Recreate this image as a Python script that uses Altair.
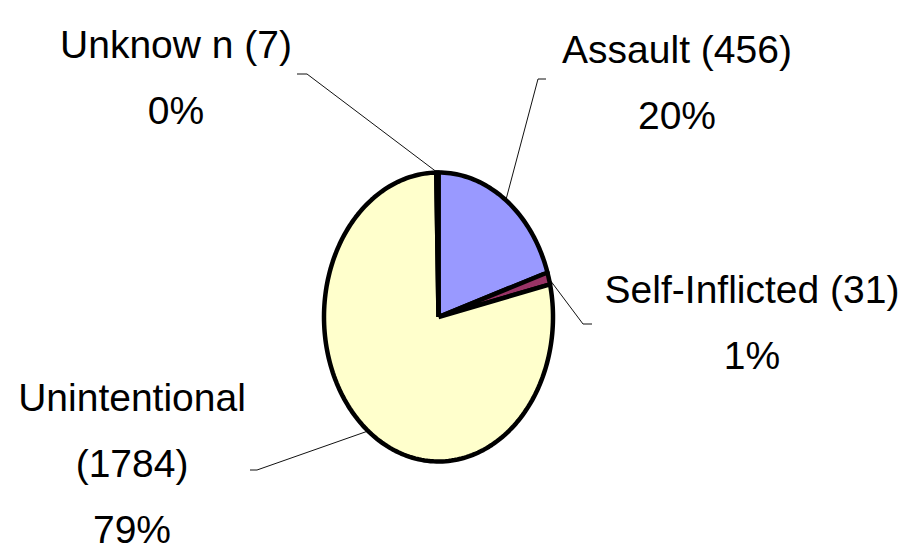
import math
import altair as alt
import pandas as pd

# ---- data ----
categories = ["Assault", "Self-Inflicted", "Unintentional", "Unknow n"]
counts = [456, 31, 1784, 7]
percents = [20, 1, 79, 0]
colors = ["#9999FF", "#993366", "#FFFFCC", "#CCFFFF"]

# ---- layout (pixels) ----
W, H = 898, 543
CX, CY, RX, RY = 438.5, 317.0, 114.5, 144.5
label_first_line_break = [False, False, True, False]
label_pos = [(677, 63), (752, 303), (132, 411), (176, 58)]
leader_elbow = [(538, 79), (583, 324), (257, 470), (307, 74)]
leader_tick = [(546, 79), (592, 324), (250, 470), (297, 74)]

total = sum(counts)

slice_rows, leader_rows, label_rows = [], [], []
start = 0.0
for k, (cat, n) in enumerate(zip(categories, counts)):
    sweep = n / total * 2 * math.pi
    end = start + sweep
    steps = max(2, int(sweep / (2 * math.pi) * 240))
    i = 0
    slice_rows.append(dict(cat=cat, i=i, x=CX, y=CY)); i += 1
    for s in range(steps + 1):
        t = start + sweep * s / steps
        slice_rows.append(dict(cat=cat, i=i, x=CX + RX * math.sin(t), y=CY - RY * math.cos(t))); i += 1
    slice_rows.append(dict(cat=cat, i=i, x=CX, y=CY))
    mid = start + sweep / 2
    ex, ey = CX + RX * math.sin(mid), CY - RY * math.cos(mid)
    pts = [(ex, ey), leader_elbow[k], leader_tick[k]]
    for j, (px, py) in enumerate(pts):
        leader_rows.append(dict(cat=cat, i=j, x=px, y=py))
    name_part = f"{cat}\n({n})" if label_first_line_break[k] else f"{cat} ({n})"
    label_rows.append(dict(cat=cat, x=label_pos[k][0], y=label_pos[k][1],
                           label=f"{name_part}\n{percents[k]}%"))
    start = end

slices = pd.DataFrame(slice_rows)
leaders = pd.DataFrame(leader_rows)
labels = pd.DataFrame(label_rows)

xs = alt.Scale(domain=[8, 8 + W], nice=False, zero=False)
ys = alt.Scale(domain=[8, 8 + H], nice=False, zero=False, reverse=True)

pie = alt.Chart(slices).mark_line(
    stroke="black", strokeWidth=4.5, strokeJoin="round", interpolate="linear"
).encode(
    x=alt.X("x:Q", scale=xs, axis=None),
    y=alt.Y("y:Q", scale=ys, axis=None),
    detail="cat:N",
    order=alt.Order("i:Q"),
    fill=alt.Fill("cat:N", scale=alt.Scale(domain=categories, range=colors), legend=None),
)

lead = alt.Chart(leaders).mark_line(stroke="#111111", strokeWidth=1).encode(
    x=alt.X("x:Q", scale=xs, axis=None),
    y=alt.Y("y:Q", scale=ys, axis=None),
    detail="cat:N",
    order=alt.Order("i:Q"),
)

text = alt.Chart(labels).mark_text(
    font="Liberation Sans, Arial, sans-serif",
    fontSize=39, lineHeight=66, align="center", baseline="alphabetic",
    lineBreak="\n", color="black",
).encode(
    x=alt.X("x:Q", scale=xs, axis=None),
    y=alt.Y("y:Q", scale=ys, axis=None),
    text="label:N",
)

chart = alt.layer(lead, pie, text).properties(
    width=W, height=H, padding=0, autosize=alt.AutoSizeParams(type="none")
).configure_view(stroke=None)

chart.save("out.html", embed_options={"renderer": "svg", "actions": False})
